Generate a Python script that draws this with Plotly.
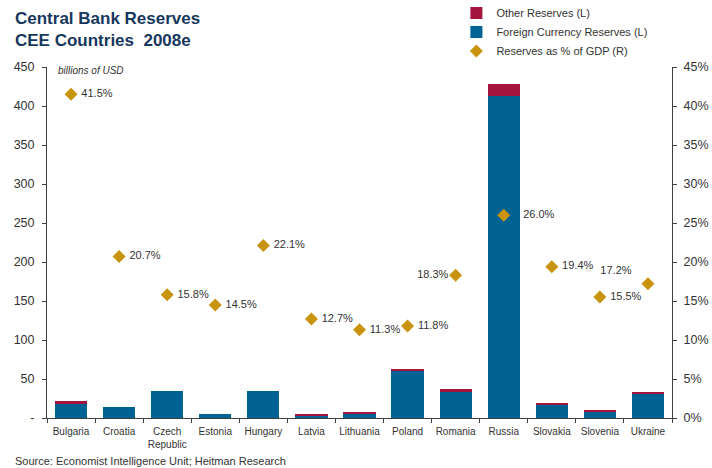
import plotly.graph_objects as go

countries = ["Bulgaria", "Croatia", "Czech<br>Republic", "Estonia", "Hungary", "Latvia",
             "Lithuania", "Poland", "Romania", "Russia", "Slovakia", "Slovenia", "Ukraine"]
foreign_reserves = [19.2, 14.1, 34.6, 5.1, 34.6, 3.8, 5.5, 60.3, 33.8, 412.8, 16.7, 8.1, 31.6]
other_reserves = [2.2, 0.0, 0.0, 0.0, 0.0, 1.7, 1.3, 2.5, 3.4, 15.4, 1.7, 0.9, 0.9]
pct_gdp = [41.5, 20.7, 15.8, 14.5, 22.1, 12.7, 11.3, 11.8, 18.3, 26.0, 19.4, 15.5, 17.2]
label_pos = ["middle right"] * 8 + ["middle left", "middle right", "middle right",
                                    "middle right", "top left"]
# padding (non-breaking spaces) before/after each percentage label
label_pad_before = [1, 1, 1, 1, 1, 1, 1, 1, 0, 4, 1, 1, 0]
label_pad_after = [0, 0, 0, 0, 0, 0, 0, 0, 0, 0, 0, 0, 3]

left_ticks = list(range(0, 451, 50))
left_ticktext = ["-"] + [str(v) for v in left_ticks[1:]]

BLUE = "#006193"
RED = "#A5133F"
GOLD = "#C8940E"
AXIS = "#404040"
FONT = "Liberation Sans, Arial, sans-serif"
NBSP = "\u00a0"

labels = [NBSP * b + f"{p:.1f}%" + NBSP * a
          for p, b, a in zip(pct_gdp, label_pad_before, label_pad_after)]

fig = go.Figure()
fig.add_trace(go.Bar(x=countries, y=foreign_reserves, name="Foreign Currency Reserves (L)",
                     marker=dict(color=BLUE, line=dict(width=0)), legendrank=2))
fig.add_trace(go.Bar(x=countries, y=other_reserves, name="Other Reserves (L)",
                     marker=dict(color=RED, line=dict(width=0)), legendrank=1))
fig.add_trace(go.Scatter(x=countries, y=[p / 100 for p in pct_gdp], yaxis="y2",
                         name="Reserves as % of GDP (R)", mode="markers+text",
                         marker=dict(symbol="diamond", size=10, color=GOLD),
                         text=labels, textposition=label_pos,
                         textfont=dict(size=11, color="#333333", family=FONT),
                         cliponaxis=False, legendrank=3))

fig.update_layout(
    width=712, height=468,
    margin=dict(l=47, r=40, t=67, b=50, autoexpand=False),
    paper_bgcolor="white", plot_bgcolor="white",
    barmode="stack", bargap=0.33,
    font=dict(family=FONT, size=11, color="#333333"),
    showlegend=True,
    legend=dict(x=0.655, y=1.195, xanchor="left", yanchor="top",
                bgcolor="rgba(0,0,0,0)", font=dict(size=11, color="#333333"),
                traceorder="normal", itemwidth=30, tracegroupgap=0),
    xaxis=dict(range=[-0.5, 12.5], showgrid=False, showline=True, linecolor=AXIS,
               linewidth=1, ticks="outside", tickson="boundaries", ticklen=4,
               tickcolor=AXIS, tickangle=0, automargin=False, ticklabelstandoff=4,
               tickfont=dict(size=10, color="#333333")),
    yaxis=dict(range=[0, 450], tickvals=left_ticks, ticktext=left_ticktext,
               showgrid=False, zeroline=False, showline=True, linecolor=AXIS,
               ticks="outside", ticklen=4, tickcolor=AXIS, automargin=False,
               ticklabelstandoff=5, tickfont=dict(size=12.5, color="#333333")),
    yaxis2=dict(range=[0, 0.45], overlaying="y", side="right", tickformat=".0%",
                dtick=0.05, showgrid=False, zeroline=False, showline=True,
                linecolor=AXIS, ticks="outside", ticklen=4, tickcolor=AXIS,
                automargin=False, ticklabelstandoff=4,
                tickfont=dict(size=12.5, color="#333333")),
    annotations=[
        dict(text="<b>Central Bank Reserves<br>CEE Countries  2008e</b>", xref="paper",
             yref="paper", x=-0.055, y=1.172, xanchor="left", yanchor="top", align="left",
             showarrow=False, font=dict(size=17, color="#17375E", family=FONT)),
        dict(text="<i>billions of USD</i>", xref="paper", yref="paper", x=0.015, y=0.99,
             xanchor="left", yanchor="middle", showarrow=False,
             font=dict(size=10, color="#333333", family=FONT)),
        dict(text="Source: Economist Intelligence Unit; Heitman Research", xref="paper",
             yref="paper", x=-0.055, y=-0.122, xanchor="left", yanchor="middle",
             showarrow=False, font=dict(size=11, color="#333333", family=FONT)),
    ],
)

fig.write_html("out.html")
